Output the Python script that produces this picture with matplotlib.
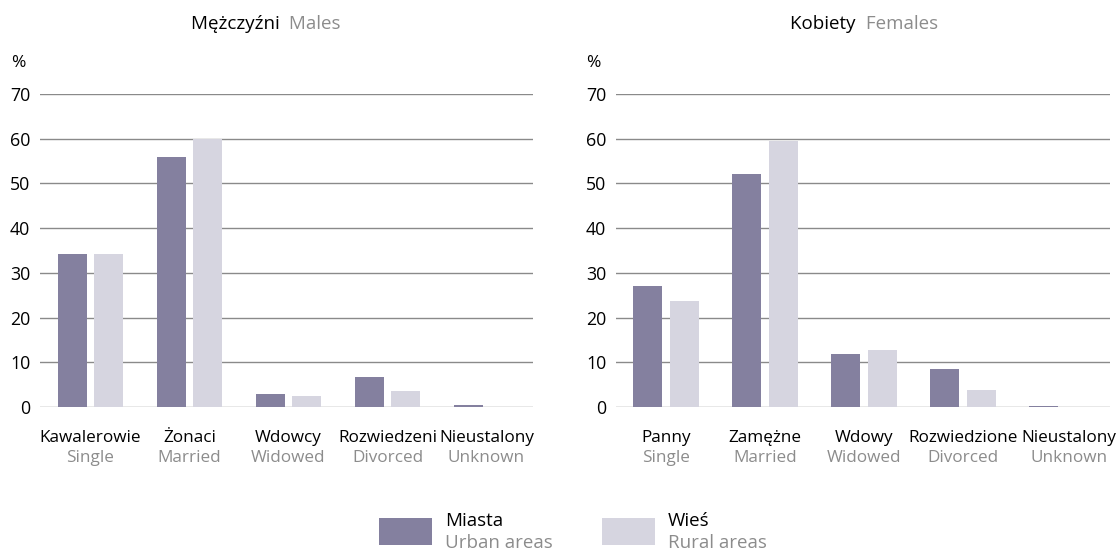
import numpy as np
import matplotlib
matplotlib.use("Agg")
import matplotlib.pyplot as plt
from matplotlib.patches import Rectangle

plt.rcParams['font.family'] = ['Open Sans', 'DejaVu Sans']

# data (percent)
male_pl = ['Kawalerowie', 'Żonaci', 'Wdowcy', 'Rozwiedzeni', 'Nieustalony']
male_en = ['Single', 'Married', 'Widowed', 'Divorced', 'Unknown']
male_urban = [34.2, 55.9, 2.9, 6.7, 0.4]
male_rural = [34.2, 59.9, 2.5, 3.6, 0.05]

female_pl = ['Panny', 'Zamężne', 'Wdowy', 'Rozwiedzione', 'Nieustalony']
female_en = ['Single', 'Married', 'Widowed', 'Divorced', 'Unknown']
female_urban = [27.1, 52.1, 11.9, 8.5, 0.3]
female_rural = [23.7, 59.5, 12.8, 3.8, 0.1]

yticks = [0, 10, 20, 30, 40, 50, 60, 70]

URBAN = '#84809f'
RURAL = '#d6d5e0'
GRID = '#8a8a8a'
GRAY_TXT = '#8c8c8c'

W, H = 1120, 552
fig = plt.figure(figsize=(W / 100, H / 100), dpi=100)


def panel(left_px, right_px, xmin, xmax, title_pl, title_en, cats_pl, cats_en, urban, rural, last_shift=0):
    ax = fig.add_axes([left_px / W, 1 - 407 / H, (right_px - left_px) / W, (407 - 94) / H])
    x = np.arange(len(urban))
    bw = 0.293
    off = 0.182
    ax.bar(x - off, urban, bw, color=URBAN, zorder=2, clip_on=False)
    ax.bar(x + off, rural, bw, color=RURAL, zorder=2, clip_on=False)
    ax.set_xlim(xmin, xmax)
    ax.set_ylim(0, 70)
    for v in yticks:
        ax.axhline(v, color=GRID, lw=1.0, zorder=1)
    for s in ax.spines.values():
        s.set_visible(False)
    ax.set_yticks(yticks)
    ax.set_yticklabels([str(v) for v in yticks], fontsize=12.8)
    ax.tick_params(axis='y', length=0, pad=7)
    ax.set_xticks([])
    ax.text(-0.045, 1.1, '%', transform=ax.transAxes, ha='center', va='center', fontsize=12.5)
    for i in range(len(cats_pl)):
        dx = last_shift if i == len(cats_pl) - 1 else 0
        ax.annotate(cats_pl[i], xy=(x[i], 0), xytext=(dx, -22), textcoords='offset points',
                    ha='center', va='center', fontsize=12.3, color='black', annotation_clip=False)
        ax.annotate(cats_en[i], xy=(x[i], 0), xytext=(dx, -37), textcoords='offset points',
                    ha='center', va='center', fontsize=12.3, color=GRAY_TXT, annotation_clip=False)
    # title in two colours
    cx = (left_px + right_px) / 2 / W
    fig.text(cx - 0.002, 1 - 24 / H, title_pl + ' ', ha='right', va='center', fontsize=13.5, color='black')
    fig.text(cx - 0.002, 1 - 24 / H, ' ' + title_en, ha='left', va='center', fontsize=13.5, color=GRAY_TXT)
    return ax


panel(40, 533, -0.51, 4.47, 'Mężczyźni', 'Males', male_pl, male_en, male_urban, male_rural)
panel(616, 1110, -0.505, 4.485, 'Kobiety', 'Females', female_pl, female_en, female_urban, female_rural,
      last_shift=5)

# legend
for px, col, lab_pl, lab_en in [(379, URBAN, 'Miasta', 'Urban areas'), (602, RURAL, 'Wieś', 'Rural areas')]:
    fig.patches.append(Rectangle((px / W, 1 - 545 / H), 53 / W, 27 / H, transform=fig.transFigure,
                                 facecolor=col, edgecolor='none'))
    fig.text((px + 66) / W, 1 - 521 / H, lab_pl, ha='left', va='center', fontsize=13.5, color='black')
    fig.text((px + 66) / W, 1 - 543 / H, lab_en, ha='left', va='center', fontsize=13.5, color=GRAY_TXT)

fig.savefig('out.png', dpi=100)
